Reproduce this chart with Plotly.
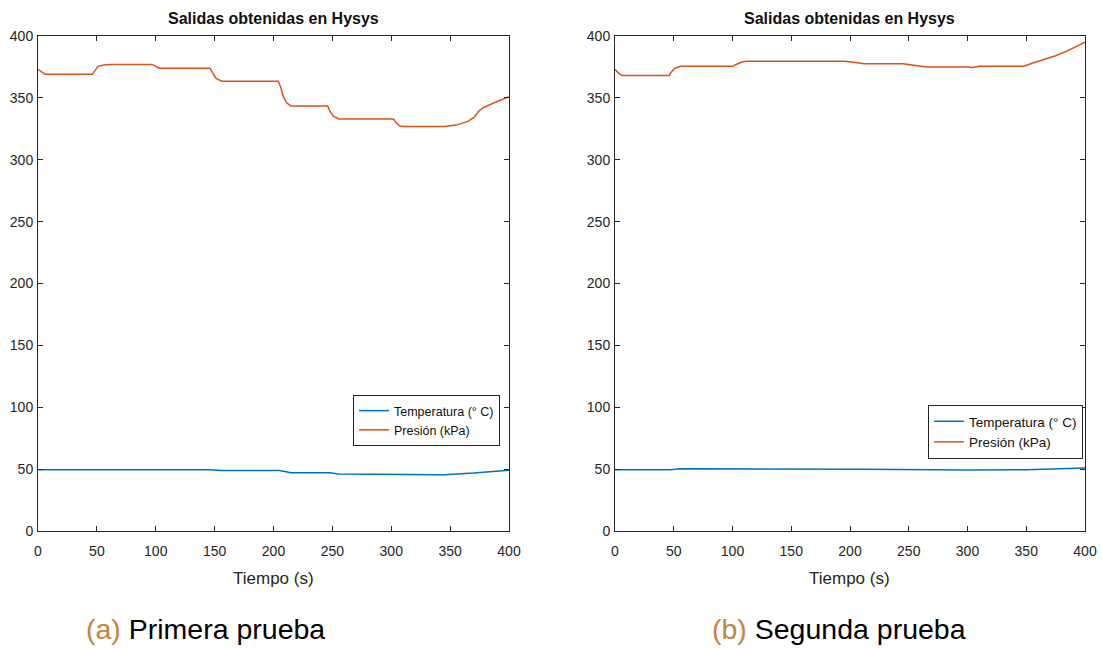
import plotly.graph_objects as go

# ---- data ----
t_pres_a = [0, 3, 6, 46, 48, 51, 56, 62, 97, 100, 103, 146, 148, 151, 156, 204, 206, 208, 211, 215,
            246, 248, 251, 256, 302, 304, 307, 310, 345, 355, 365, 370, 374, 378, 385, 400]
pres_a = [373, 371, 369, 369, 372, 375.5, 376.5, 377, 377, 375.5, 374, 374, 371, 366, 363.5, 363.5, 359, 352, 346, 343.5,
          343.5, 339, 335, 333, 333, 330, 327.5, 326.8, 326.8, 328, 331, 334, 339, 342, 345, 351]
t_temp_a = [0, 47, 52, 100, 105, 148, 155, 205, 215, 248, 255, 300, 310, 345, 370, 400]
temp_a = [49.5, 49.5, 50, 50, 49.5, 49.5, 48.8, 48.8, 47, 47, 46, 46, 45.5, 45.5, 46.8, 49]

t_pres_b = [0, 3, 6, 46, 48, 51, 56, 100, 103, 108, 112, 195, 205, 212, 245, 255, 265, 300, 304, 310,
            348, 355, 365, 375, 385, 392, 400]
pres_b = [373, 370, 368, 368, 371, 374, 375.5, 375.5, 377, 379, 379.5, 379.5, 378.5, 377.5, 377.5, 376, 375, 375, 374.5, 375.5,
          375.5, 378, 381, 384, 388, 391, 395]
t_temp_b = [0, 47, 55, 200, 210, 300, 350, 400]
temp_b = [49.5, 49.5, 50.3, 50.3, 49.8, 49.3, 49.5, 51]

x_ticks = [0, 50, 100, 150, 200, 250, 300, 350, 400]
y_ticks = [0, 50, 100, 150, 200, 250, 300, 350, 400]
title_text = "Salidas obtenidas en Hysys"
xlabel = "Tiempo (s)"
name_temp = "Temperatura (° C)"
name_pres = "Presión (kPa)"
captions = ["(a)", "(b)"]
caption_text = ["Primera prueba", "Segunda prueba"]

BLUE = "#0072BD"
ORANGE = "#D95319"
AX = "#262626"
FONT = "Liberation Sans, Arial, Helvetica, sans-serif"

fig = go.Figure()

fig.add_trace(go.Scatter(x=t_temp_a, y=temp_a, mode="lines", name=name_temp,
                         line=dict(color=BLUE, width=1.5), xaxis="x", yaxis="y", legend="legend"))
fig.add_trace(go.Scatter(x=t_pres_a, y=pres_a, mode="lines", name=name_pres,
                         line=dict(color=ORANGE, width=1.5), xaxis="x", yaxis="y", legend="legend"))
fig.add_trace(go.Scatter(x=t_temp_b, y=temp_b, mode="lines", name=name_temp,
                         line=dict(color=BLUE, width=1.5), xaxis="x2", yaxis="y2", legend="legend2"))
fig.add_trace(go.Scatter(x=t_pres_b, y=pres_b, mode="lines", name=name_pres,
                         line=dict(color=ORANGE, width=1.5), xaxis="x2", yaxis="y2", legend="legend2"))

W, H = 1102, 648
dom_y = [1 - 531 / H, 1 - 36 / H]
dom_x1 = [38 / W, 509 / W]
dom_x2 = [615 / W, 1085 / W]

def xax(domain, anchor):
    return dict(domain=domain, anchor=anchor, range=[0, 400], tickvals=x_ticks, automargin=False,
                showgrid=False, zeroline=False, showline=True, linecolor=AX, linewidth=1,
                mirror="ticks", ticks="inside", ticklen=5, tickcolor=AX, ticklabelstandoff=7,
                tickfont=dict(family=FONT, size=14, color=AX))

def yax(anchor):
    return dict(domain=dom_y, anchor=anchor, range=[0, 400], tickvals=y_ticks, automargin=False,
                showgrid=False, zeroline=False, showline=True, linecolor=AX, linewidth=1,
                mirror="ticks", ticks="inside", ticklen=5, tickcolor=AX, ticklabelstandoff=1,
                tickfont=dict(family=FONT, size=14, color=AX))

legend_common = dict(bgcolor="white", bordercolor="#222222", borderwidth=1,
                     xanchor="right", yanchor="top", tracegroupgap=0, itemwidth=30)

annotations = []
for dom in (dom_x1, dom_x2):
    cx = (dom[0] + dom[1]) / 2
    annotations.append(dict(text="<b>" + title_text + "</b>", x=cx, y=1 - 18 / H, xref="paper", yref="paper",
                            showarrow=False, font=dict(family=FONT, size=16, color="#111111"),
                            xanchor="center", yanchor="middle"))
    annotations.append(dict(text=xlabel, x=cx, y=1 - 578 / H, xref="paper", yref="paper",
                            showarrow=False, font=dict(family=FONT, size=17, color=AX),
                            xanchor="center", yanchor="middle"))

cap_x = [205 / W, 839 / W]
for c, t, x in zip(captions, caption_text, cap_x):
    annotations.append(dict(text='<span style="color:#C8843F">' + c + '</span> ' + t,
                            x=x, y=1 - 629 / H, xref="paper", yref="paper", showarrow=False,
                            font=dict(family=FONT, size=28.5, color="#000000"),
                            xanchor="center", yanchor="middle"))

fig.update_layout(
    template="none",
    width=W, height=H,
    margin=dict(l=0, r=0, t=0, b=0, autoexpand=False),
    paper_bgcolor="white", plot_bgcolor="white",
    xaxis=xax(dom_x1, "y"), yaxis=yax("x"),
    xaxis2=xax(dom_x2, "y2"), yaxis2=yax("x2"),
    legend=dict(x=500 / W, y=1 - 395 / H, font=dict(family=FONT, size=12.5, color="#111111"), **legend_common),
    legend2=dict(x=1083 / W, y=1 - 405 / H, font=dict(family=FONT, size=13.5, color="#111111"), **legend_common),
    annotations=annotations,
    showlegend=True,
)

fig.write_html("out.html")
